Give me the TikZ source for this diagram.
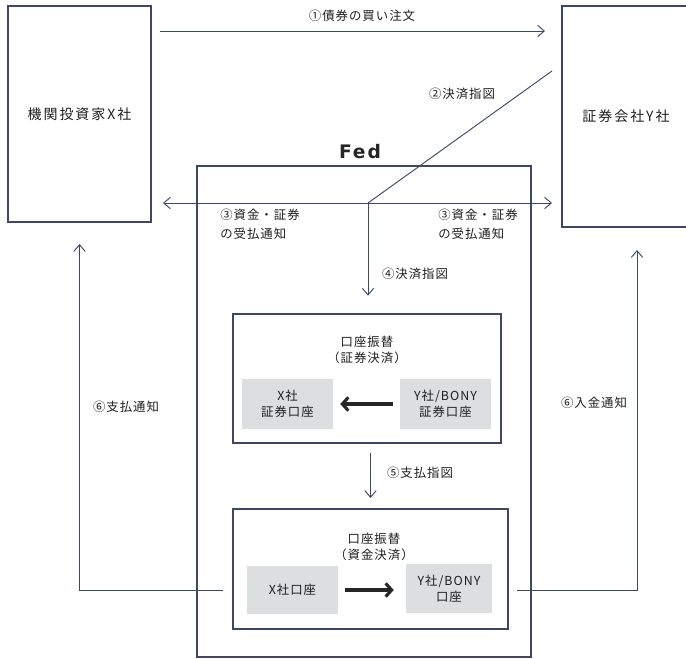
\documentclass[tikz,border=0pt]{standalone}
\usepackage{fontspec}
\setmainfont{Noto Sans CJK JP}
\newfontfamily\jpsmall{Noto Sans CJK JP}[LetterSpace=8]
\newfontfamily\jpbig{Noto Sans CJK JP}[LetterSpace=14]
\newfontfamily\fedfont{DejaVu Sans}[LetterSpace=10]
\usetikzlibrary{arrows.meta}
\definecolor{linecol}{RGB}{62,72,98}
\definecolor{txtcol}{RGB}{30,30,30}
\definecolor{acctgray}{RGB}{221,222,224}
\tikzset{
  partybox/.style={draw=linecol, line width=1.5pt, text=txtcol, font=\jpbig\fontsize{10.5}{12}\selectfont},
  fedbox/.style={draw=linecol, line width=1.5pt},
  xferbox/.style={draw=linecol, line width=1.5pt},
  acctbox/.style={fill=acctgray, text=txtcol, align=center, font=\jpsmall\fontsize{9.3}{12}\selectfont},
  lbl/.style={text=txtcol, font=\jpsmall\fontsize{9.3}{12}\selectfont},
  arr/.style={->, linecol, line width=0.7pt},
  bigarr/.style={-{Straight Barb[length=4.5pt,width=10pt]}, black!85, line width=2.3pt, shorten >=5.25pt, shorten <=5.25pt}
}

\begin{document}
\begin{tikzpicture}[x=0.75pt, y=-0.75pt, >={Straight Barb[length=5pt,width=8.5pt]}]
  \useasboundingbox (0,0) rectangle (686,659);

  % Parties
  \node[partybox, minimum width=107.25pt, minimum height=162pt] (investor) at (79.5,114) {機関投資家X社};
  \node[partybox, minimum width=96pt, minimum height=165.75pt] (dealer) at (626,116.5) {証券会社Y社};

  % Fed with the two book-entry transfers
  \node[fedbox, minimum width=250.5pt, minimum height=368.25pt] (fed) at (364,411.5) {};
  \node[font=\fedfont\bfseries\fontsize{14}{16}\selectfont, text=black!85] (fedname) at (360,152) {Fed};

  \node[xferbox, minimum width=201pt, minimum height=96.75pt] (secxfer) at (367,378.5) {};
  \node[lbl, align=center] (sectitle) at (367,349.5) {口座振替\\（証券決済）};
  \node[acctbox, minimum width=68.25pt, minimum height=37.5pt] (xsec) at (287.5,404) {X社\\証券口座};
  \node[acctbox, minimum width=68.25pt, minimum height=37.5pt] (ysec) at (445.5,404) {Y社/BONY\\証券口座};

  \node[xferbox, minimum width=206.25pt, minimum height=90pt] (cashxfer) at (370.5,569) {};
  \node[lbl, align=center] (cashtitle) at (374,547) {口座振替\\（資金決済）};
  \node[acctbox, minimum width=68.25pt, minimum height=36pt] (xcash) at (292.5,590) {X社口座};
  \node[acctbox, minimum width=64.5pt, minimum height=36.75pt] (ycash) at (449,588.5) {Y社/BONY\\口座};

  % Steps 1-3
  \coordinate (buyS) at (160,31);
  \coordinate (buyE) at (545,31);
  \coordinate (instr) at (552,71);
  \coordinate (jn) at (368,203);
  \coordinate (noteL) at (163,203);
  \coordinate (noteR) at (552,203);
  \draw[arr] (buyS) -- (buyE);
  \node[lbl] (buylbl) at (362,16) {①債券の買い注文};
  \draw[linecol, line width=0.7pt] (instr) -- (jn);
  \node[lbl] (instrlbl) at (462,94) {②決済指図};
  \draw[arr, <->] (noteL) -- (noteR);
  \node[lbl, align=left] (notelblL) at (260,224) {③資金・証券\\[2pt]の受払通知};
  \node[lbl, align=left] (notelblR) at (478,224) {③資金・証券\\[2pt]の受払通知};

  % Steps 4-5
  \draw[arr, shorten >=13pt] (jn) -- (jn |- secxfer.north);
  \node[lbl] (fwdlbl) at (415,274) {④決済指図};
  \draw[bigarr] (ysec) -- (xsec);
  \draw[arr, shorten <=6.75pt, shorten >=7.5pt] (secxfer.south -| cashxfer.north) -- (cashxfer.north);
  \node[lbl] (paylbl) at (420,473) {⑤支払指図};
  \draw[bigarr, shorten >=9pt] (xcash.east) -- (xcash.east -| ycash.west);

  % Step 6
  \coordinate (dealerN) at (637,250);
  \draw[arr, shorten <=6.75pt, shorten >=15.75pt] (cashxfer.west |- xcash) -| (investor.south);
  \node[lbl] (debitlbl) at (126,407) {⑥支払通知};
  \draw[arr, shorten <=6pt] (cashxfer.east |- xcash) -| (dealerN);
  \node[lbl] (creditlbl) at (594,403) {⑥入金通知};
\end{tikzpicture}
\end{document}
